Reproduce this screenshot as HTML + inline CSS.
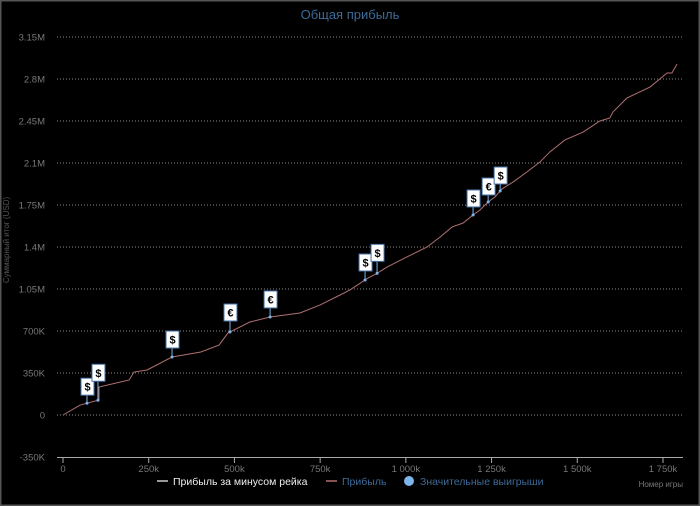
<!DOCTYPE html>
<html><head><meta charset="utf-8"><style>
html,body{margin:0;padding:0;background:#000;width:700px;height:506px;overflow:hidden;}
svg{display:block;}
svg text{font-family:"Liberation Sans",sans-serif;}
</style></head><body>
<svg id="c" width="700" height="506" viewBox="0 0 700 506" xmlns="http://www.w3.org/2000/svg">
<rect x="0.5" y="0.5" width="699" height="505" fill="#000" stroke="#555" stroke-width="2"/>
<text x="350" y="19" text-anchor="middle" font-size="13" fill="#3d6b99">Общая прибыль</text>
<text transform="translate(9,240) rotate(-90)" text-anchor="middle" font-size="8" fill="#555">Суммарный итог (USD)</text>
<text x="683" y="487" text-anchor="end" font-size="8" fill="#777">Номер игры</text>
<g id="grid"></g><g id="xaxis"></g><g id="series"></g><g id="marks"></g>
<g>
<g><line x1="157" y1="481" x2="168" y2="481" stroke="#ccc" stroke-width="1.5"/><text x="173" y="485" font-size="10.5" fill="#eee">Прибыль за минусом рейка</text></g>
<g><line x1="326" y1="481" x2="337" y2="481" stroke="#b07070" stroke-width="1.5"/><text x="342" y="485" font-size="10.5" fill="#3d6b99">Прибыль</text></g>
<g><circle cx="409" cy="481" r="5" fill="#7cb5ec"/><text x="420" y="485" font-size="10.5" fill="#3d6b99">Значительные выигрыши</text></g>
</g>
</svg>
<script>
const yTicks=[-350,0,350,700,1050,1400,1750,2100,2450,2800,3150];
const yTickLabels=["-350K","0","350K","700K","1.05M","1.4M","1.75M","2.1M","2.45M","2.8M","3.15M"];
const xTicks=[0,250,500,750,1000,1250,1500,1750];
const xTickLabels=["0","250k","500k","750k","1 000k","1 250k","1 500k","1 750k"];
const games=[0,50,105,105,193,207,245,318,402,455,481,545,604,691,750,808,837,890,913,945,1003,1062,1100,1135,1167,1196,1216,1240,1260,1280,1313,1353,1391,1420,1464,1517,1566,1595,1604,1645,1712,1762,1776,1791];
const profit=[0,83,125,233,292,358,375,483,525,583,683,775,817,850,917,1000,1042,1142,1175,1233,1317,1400,1483,1567,1600,1667,1708,1775,1817,1883,1942,2025,2108,2192,2292,2358,2450,2475,2525,2642,2733,2850,2850,2925];
const winGames=[70,102,318,487,604,881,916,1196,1240,1275];
const winSymbols=["$","$","$","€","€","$","$","$","€","$"];
const winStems=[9,20,10,12,10,10,13,9,8,8];
const NS="http://www.w3.org/2000/svg";
const X=v=>63+v*600/1750, Y=v=>415-v*42/350;
function mk(t,a,p){const e=document.createElementNS(NS,t);for(const k in a)e.setAttribute(k,a[k]);p.appendChild(e);return e;}
const grid=document.getElementById('grid');
yTicks.forEach((v,i)=>{
  if(v!==-350){const l=mk('line',{x1:57,x2:683,y1:Y(v),y2:Y(v),stroke:'#888','stroke-width':1,'stroke-dasharray':'1,2'},grid);
  
  }
  const t=mk('text',{x:45,y:Y(v)+3.5,'text-anchor':'end','font-size':9.5,fill:'#777'},grid);t.textContent=yTickLabels[i];
  
  
});
const xa=document.getElementById('xaxis');
const al=mk('line',{x1:57,x2:683,y1:457.5,y2:457.5,stroke:'#aaa','stroke-width':1},xa);


xTicks.forEach((v,i)=>{
  mk('line',{x1:X(v),x2:X(v),y1:458,y2:463,stroke:'#aaa'},xa);
  const t=mk('text',{x:X(v),y:472,'text-anchor':'middle','font-size':9.5,fill:'#777'},xa);t.textContent=xTickLabels[i];
  
  
});
const ser=document.getElementById('series');
const p=mk('polyline',{points:games.map((g,i)=>X(g)+','+Y(profit[i])).join(' '),fill:'none',stroke:'#b07070','stroke-width':1},ser);


function interp(g){for(let i=1;i<games.length;i++){if(g<=games[i]){const a=games[i-1],b=games[i];const t=b===a?1:(g-a)/(b-a);return profit[i-1]+t*(profit[i]-profit[i-1]);}}return profit[profit.length-1];}
const mg=document.getElementById('marks');
winGames.forEach((g,i)=>{
  const px=X(g),py=Y(interp(g)),top=py-winStems[i]-16;
  const grp=mk('g',{},mg);
  
  
  mk('line',{x1:px,x2:px,y1:py,y2:top+16,stroke:'#7cb5ec','stroke-width':1},grp);
  mk('circle',{cx:px,cy:py,r:1.5,fill:'#7cb5ec'},grp);
  mk('rect',{x:px-6,y:top,width:13,height:17,fill:'#fff',stroke:'#4572a7','stroke-width':1},grp);
  const t=mk('text',{x:px+0.5,y:top+12.5,'text-anchor':'middle','font-size':11,'font-weight':'bold',fill:'#000'},grp);t.textContent=winSymbols[i];
});
</script>
</body></html>
